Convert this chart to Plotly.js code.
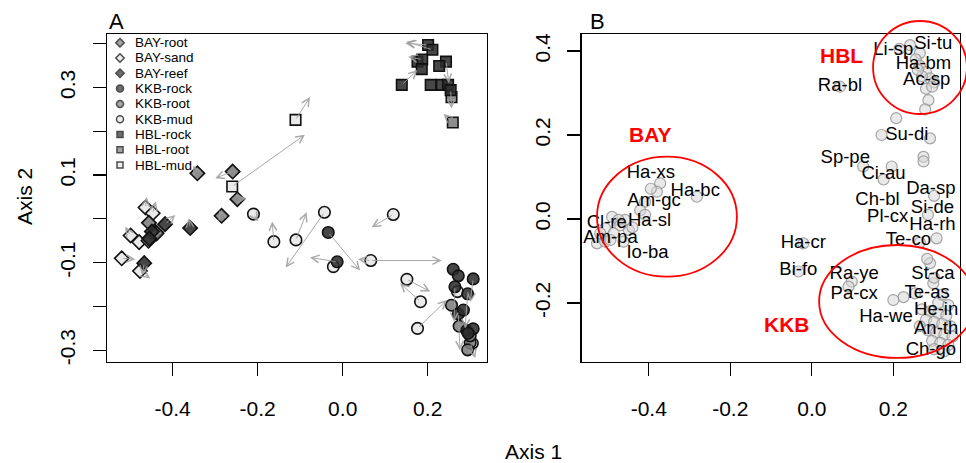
<!DOCTYPE html>
<html><head><meta charset="utf-8">
<script src="https://cdn.plot.ly/plotly-3.0.1.min.js"></script>
<style>html,body{margin:0;padding:0;background:#fff}#chart{width:966px;height:463px}</style>
</head><body><div id="chart"></div>
<script>
// ---------------- Panel A data ----------------
const bayRootX = [-0.342, -0.259, -0.248, -0.285, -0.456, -0.438, -0.457];
const bayRootY = [0.104, 0.108, 0.045, 0.007, -0.009, -0.033, -0.050];
const baySandX = [-0.464, -0.447, -0.499, -0.479, -0.520, -0.477, -0.440];
const baySandY = [0.026, 0.013, -0.038, -0.053, -0.090, -0.119, -0.030];
const bayReefX = [-0.418, -0.359, -0.467, -0.449, -0.455];
const bayReefY = [-0.012, -0.021, -0.101, -0.029, -0.045];
const kkbMudX = [-0.210, -0.162, -0.110, -0.043, 0.119, 0.066, 0.151, 0.183, 0.176, -0.022, 0.270, 0.305];
const kkbMudY = [0.011, -0.052, -0.048, 0.015, 0.010, -0.095, -0.138, -0.189, -0.250, -0.109, -0.166, -0.284];
const kkbRootX = [0.256, 0.274, 0.300, 0.294, 0.300];
const kkbRootY = [-0.197, -0.245, -0.283, -0.299, -0.267];
const kkbRockX = [-0.034, -0.013, 0.260, 0.272, 0.307, 0.264, 0.294, 0.272, 0.284, 0.292, 0.307, 0.295];
const kkbRockY = [-0.031, -0.098, -0.115, -0.130, -0.137, -0.155, -0.171, -0.217, -0.208, -0.255, -0.251, -0.261];
const hblRockX = [0.201, 0.211, 0.176, 0.187, 0.186, 0.243, 0.227, 0.139, 0.207, 0.233, 0.248, 0.254];
const hblRockY = [0.397, 0.386, 0.359, 0.364, 0.342, 0.359, 0.349, 0.306, 0.306, 0.306, 0.306, 0.294];
const hblRootX = [0.256, 0.259];
const hblRootY = [0.278, 0.220];
const hblMudX = [-0.111, -0.260];
const hblMudY = [0.226, 0.074];

// arrows (from -> to), axis units
const arrowFromX = [-0.111, -0.260, 0.201, 0.211, 0.187, 0.139, 0.254, 0.259, 0.243,
  0.119, -0.043, -0.110, -0.162, -0.034, -0.013, 0.066, 0.066, 0.151, 0.183, 0.176, -0.210, 0.264, 0.294, 0.272, 0.300, 0.307,
  -0.259, -0.342, -0.520, -0.477, -0.418, -0.464, -0.447, -0.499, -0.248, -0.359, -0.285, -0.467];
const arrowFromY = [0.226, 0.074, 0.397, 0.386, 0.364, 0.306, 0.294, 0.220, 0.359,
  0.010, 0.015, -0.048, -0.052, -0.031, -0.098, -0.095, -0.095, -0.138, -0.189, -0.250, 0.011, -0.155, -0.171, -0.217, -0.283, -0.137,
  0.108, 0.104, -0.090, -0.119, -0.012, 0.026, 0.013, -0.038, 0.045, -0.021, 0.007, -0.101];
const arrowToX = [-0.077, -0.089, 0.147, 0.150, 0.154, 0.176, 0.256, 0.237, 0.250,
  0.068, -0.134, -0.085, -0.166, 0.041, -0.077, 0.233, 0.036, 0.206, 0.135, 0.245, -0.199, 0.262, 0.288, 0.276, 0.312, 0.300,
  -0.300, -0.352, -0.488, -0.453, -0.394, -0.461, -0.440, -0.512, -0.226, -0.362, -0.290, -0.472];
const arrowToY = [0.278, 0.192, 0.401, 0.405, 0.370, 0.340, 0.252, 0.240, 0.310,
  -0.019, -0.111, 0.015, -0.006, -0.118, -0.088, -0.095, -0.092, -0.166, -0.147, -0.185, -0.006, -0.235, -0.250, -0.300, -0.318, -0.190,
  0.093, 0.122, -0.092, -0.136, 0.009, 0.050, 0.040, -0.018, 0.047, 0.002, 0.020, -0.128];

const legendNames = ['BAY-root', 'BAY-sand', 'BAY-reef', 'KKB-rock', 'KKB-root', 'KKB-mud', 'HBL-rock', 'HBL-root', 'HBL-mud'];

// ---------------- Panel B data ----------------
const siteX = [-0.372, -0.380, -0.282, -0.409, -0.421, -0.409, -0.490, -0.458, -0.507, -0.486, -0.527, -0.507, -0.462, -0.449, -0.474, -0.519, -0.494, -0.470, -0.440, -0.395,
  0.241, 0.265, 0.255, 0.265, 0.280, 0.290, 0.270, 0.300, 0.280, 0.295, 0.260, 0.286, 0.278, 0.215, 0.069,
  0.207, 0.171, 0.290, 0.274, 0.274, 0.126, 0.196, 0.176, 0.300, 0.285, 0.306, 0.265, -0.021, -0.033,
  0.290, 0.283, 0.298, 0.300, 0.253, 0.225, 0.200, 0.098, 0.090, 0.270, 0.290, 0.310, 0.330, 0.280, 0.300, 0.320, 0.340, 0.265, 0.285, 0.305, 0.325, 0.345, 0.295, 0.315, 0.335, 0.300, 0.325, 0.310, 0.320, 0.335];
const siteY = [0.085, 0.065, 0.053, 0.041, 0.021, 0.010, 0.005, -0.002, -0.022, -0.034, -0.058, -0.054, -0.054, -0.026, -0.002, -0.034, -0.050, -0.015, -0.020, 0.072,
  0.414, 0.395, 0.380, 0.365, 0.350, 0.335, 0.340, 0.325, 0.310, 0.315, 0.355, 0.283, 0.261, 0.405, 0.315,
  0.240, 0.200, 0.192, 0.148, 0.137, 0.125, 0.125, 0.094, 0.055, 0.010, -0.046, -0.056, -0.058, -0.125,
  -0.105, -0.095, -0.153, -0.140, -0.177, -0.186, -0.193, -0.149, -0.161, -0.215, -0.220, -0.225, -0.230, -0.240, -0.245, -0.250, -0.255, -0.255, -0.265, -0.270, -0.275, -0.280, -0.290, -0.295, -0.300, -0.310, -0.315, -0.200, -0.180, -0.205];

const speciesNames = ['Li-sp', 'Si-tu', 'Ha-bm', 'Ac-sp', 'Ra-bl', 'Su-di', 'Sp-pe', 'Ci-au', 'Da-sp', 'Ch-bl', 'Si-de', 'Pl-cx', 'Ha-rh', 'Te-co', 'Ha-cr', 'Bi-fo', 'Ra-ye', 'Pa-cx', 'St-ca', 'Te-as', 'He-in', 'Ha-we', 'An-th', 'Ch-go', 'Ha-xs', 'Ha-bc', 'Am-gc', 'Ha-sl', 'Cl-re', 'Am-pa', 'Io-ba'];
const speciesX = [0.200, 0.298, 0.274, 0.282, 0.069, 0.233, 0.082, 0.176, 0.292, 0.161, 0.296, 0.186, 0.296, 0.237, -0.021, -0.033, 0.104, 0.104, 0.297, 0.283, 0.305, 0.182, 0.305, 0.292, -0.395, -0.286, -0.387, -0.398, -0.503, -0.494, -0.403];
const speciesY = [0.402, 0.417, 0.367, 0.331, 0.315, 0.200, 0.145, 0.107, 0.071, 0.045, 0.025, 0.004, -0.014, -0.050, -0.058, -0.123, -0.133, -0.179, -0.133, -0.177, -0.217, -0.234, -0.264, -0.312, 0.109, 0.065, 0.041, -0.006, -0.010, -0.046, -0.082];

const groupNames = ['HBL', 'BAY', 'KKB'];
const groupLabelX = [0.0735, -0.396, -0.061];
const groupLabelY = [0.390, 0.202, -0.252];
const ellipseCX = [0.2654, -0.3554, 0.2091];
const ellipseCY = [0.3607, 0.0055, -0.1964];
const ellipseRX = [0.1152, 0.1716, 0.1912];
const ellipseRY = [0.1107, 0.1429, 0.1345];

// ---------------- layout geometry ----------------
const W = 966, H = 463;
const FONT = 'Liberation Sans, Arial, Helvetica, sans-serif';
const DARK = 'rgba(45,45,45,0.88)', GRAY = 'rgba(125,125,125,0.88)', LIGHT = 'rgba(232,232,232,0.9)';
const px = p => p / W, py = p => 1 - p / H;

const domAx = [px(107), px(487)], domBx = [px(581.7), px(960)], domY = [py(362), py(34)];
const rangeAx = [-0.5546, 0.3395], rangeAy = [-0.3267, 0.4221];
const rangeBx = [-0.5645, 0.3635], rangeBy = [-0.3405, 0.4405];

function fullRange(r, d) { const s = (r[1] - r[0]) / (d[1] - d[0]); return [r[0] - d[0] * s, r[1] + (1 - d[1]) * s]; }

function axBase(extra) {
  return Object.assign({
    showgrid: false, zeroline: false, showline: true, mirror: true, linecolor: '#000', linewidth: 1.3,
    ticks: 'outside', ticklen: 13, tickwidth: 1.2, tickcolor: '#000', tickmode: 'array',
    tickfont: { family: FONT, size: 21, color: '#000' }, fixedrange: true
  }, extra);
}

const styleOf = {
  'BAY-root': ['diamond', GRAY], 'BAY-sand': ['diamond', LIGHT], 'BAY-reef': ['diamond', DARK],
  'KKB-rock': ['circle', DARK], 'KKB-root': ['circle', GRAY], 'KKB-mud': ['circle', LIGHT],
  'HBL-rock': ['square', DARK], 'HBL-root': ['square', GRAY], 'HBL-mud': ['square', LIGHT]
};
const sizeOf = { diamond: 11, circle: 11.5, square: 10.5 };

const groupsA = [
  ['BAY-sand', baySandX, baySandY], ['BAY-root', bayRootX, bayRootY], ['BAY-reef', bayReefX, bayReefY],
  ['KKB-mud', kkbMudX, kkbMudY], ['KKB-root', kkbRootX, kkbRootY], ['KKB-rock', kkbRockX, kkbRockY],
  ['HBL-mud', hblMudX, hblMudY], ['HBL-root', hblRootX, hblRootY], ['HBL-rock', hblRockX, hblRockY]
];

const traces = [];
groupsA.forEach(g => {
  const st = styleOf[g[0]];
  traces.push({
    type: 'scatter', mode: 'markers', x: g[1], y: g[2], xaxis: 'x', yaxis: 'y', showlegend: false, hoverinfo: 'skip',
    marker: { symbol: st[0], size: sizeOf[st[0]], color: st[1], line: { color: '#111', width: 1.6 } }
  });
});

// Panel B sites and species labels
traces.push({
  type: 'scatter', mode: 'markers', x: siteX, y: siteY, xaxis: 'x2', yaxis: 'y2', showlegend: false, hoverinfo: 'skip',
  marker: { symbol: 'circle', size: 11, color: 'rgba(215,215,215,0.55)', line: { color: 'rgba(150,150,150,0.85)', width: 1.2 } }
});
traces.push({
  type: 'scatter', mode: 'text', x: speciesX, y: speciesY, text: speciesNames, xaxis: 'x2', yaxis: 'y2',
  showlegend: false, hoverinfo: 'skip', cliponaxis: false, textposition: 'middle center',
  textfont: { family: FONT, size: 18.5, color: '#000' }
});

// custom legend (pixel-space overlay axes)
const legSymX = 120, legY0 = 42.7, legStep = 15.3;
traces.push({
  type: 'scatter', mode: 'markers', xaxis: 'x3', yaxis: 'y3', showlegend: false, hoverinfo: 'skip', cliponaxis: false,
  x: legendNames.map(() => legSymX), y: legendNames.map((n, i) => legY0 + i * legStep),
  marker: {
    symbol: legendNames.map(n => styleOf[n][0]),
    size: legendNames.map(n => ({ diamond: 6.5, circle: 7, square: 6 })[styleOf[n][0]]),
    color: legendNames.map(n => styleOf[n][1].replace(/,0\.\d+\)/, ',1)')),
    line: { color: '#000', width: 1.5 }
  }
});
// empty trace to create the full-figure B-unit subplot
traces.push({ type: 'scatter', x: [], y: [], xaxis: 'x4', yaxis: 'y4', showlegend: false });

const annotations = [];
legendNames.forEach((n, i) => annotations.push({
  xref: 'paper', yref: 'paper', x: px(133), y: py(legY0 + i * legStep), xanchor: 'left', yanchor: 'middle',
  text: n, showarrow: false, font: { family: FONT, size: 13.5, color: '#000' }
}));
for (let i = 0; i < arrowFromX.length; i++) {
  annotations.push({
    xref: 'x', yref: 'y', axref: 'x', ayref: 'y', x: arrowToX[i], y: arrowToY[i], ax: arrowFromX[i], ay: arrowFromY[i],
    text: '', showarrow: true, arrowhead: 5, arrowsize: 1.5, arrowwidth: 1, arrowcolor: 'rgba(160,160,160,0.9)', standoff: 0
  });
}
groupNames.forEach((n, i) => annotations.push({
  xref: 'x2', yref: 'y2', x: groupLabelX[i], y: groupLabelY[i], xanchor: 'center', yanchor: 'middle', text: '<b>' + n + '</b>', showarrow: false,
  font: { family: FONT, size: 21, color: '#ff0000' }
}));
annotations.push({ xref: 'paper', yref: 'paper', x: px(107), y: py(21), xanchor: 'left', yanchor: 'middle', text: 'A', showarrow: false, font: { family: FONT, size: 22, color: '#000' } });
annotations.push({ xref: 'paper', yref: 'paper', x: px(588), y: py(21), xanchor: 'left', yanchor: 'middle', text: 'B', showarrow: false, font: { family: FONT, size: 22, color: '#000' } });
annotations.push({ xref: 'paper', yref: 'paper', x: px(25), y: py(197), xanchor: 'center', yanchor: 'middle', textangle: -90, text: 'Axis 2', showarrow: false, font: { family: FONT, size: 21, color: '#000' } });
annotations.push({ xref: 'paper', yref: 'paper', x: px(533), y: py(451), xanchor: 'center', yanchor: 'middle', text: 'Axis 1', showarrow: false, font: { family: FONT, size: 21, color: '#000' } });

const shapes = groupNames.map((n, i) => ({
  type: 'circle', xref: 'x4', yref: 'y4', layer: 'above',
  x0: ellipseCX[i] - ellipseRX[i], x1: ellipseCX[i] + ellipseRX[i],
  y0: ellipseCY[i] - ellipseRY[i], y1: ellipseCY[i] + ellipseRY[i],
  line: { color: '#ff0000', width: 1.8 }
}));

const xTicks = [-0.4, -0.2, 0.0, 0.2];
const xTickText = ['-0.4', '-0.2', '0.0', '0.2'];
const aYTicks = [-0.3, -0.2, -0.1, 0.0, 0.1, 0.2, 0.3, 0.4];
const aYTickText = ['-0.3', '', '-0.1', '', '0.1', '', '0.3', ''];
const bYTicks = [-0.2, 0.0, 0.2, 0.4];
const bYTickText = ['-0.2', '0.0', '0.2', '0.4'];

const layout = {
  width: W, height: H, margin: { l: 0, r: 0, t: 0, b: 0 }, paper_bgcolor: '#fff', plot_bgcolor: 'rgba(0,0,0,0)',
  showlegend: false, font: { family: FONT, color: '#000' },
  xaxis: axBase({ domain: domAx, range: rangeAx, anchor: 'y', tickvals: xTicks, ticktext: xTickText, ticklabelstandoff: 14 }),
  yaxis: axBase({ domain: domY, range: rangeAy, anchor: 'x', tickvals: aYTicks, ticktext: aYTickText, tickangle: -90, ticklabelstandoff: 9 }),
  xaxis2: axBase({ domain: domBx, range: rangeBx, anchor: 'y2', tickvals: xTicks, ticktext: xTickText, ticklabelstandoff: 14 }),
  yaxis2: axBase({ domain: domY, range: rangeBy, anchor: 'x2', tickvals: bYTicks, ticktext: bYTickText, tickangle: -90, ticklabelstandoff: 9 }),
  xaxis3: { domain: [0, 1], range: [0, W], anchor: 'y3', visible: false, fixedrange: true },
  yaxis3: { domain: [0, 1], range: [H, 0], anchor: 'x3', visible: false, fixedrange: true },
  xaxis4: { domain: [0, 1], range: fullRange(rangeBx, domBx), anchor: 'y4', visible: false, fixedrange: true },
  yaxis4: { domain: [0, 1], range: fullRange(rangeBy, domY), anchor: 'x4', visible: false, fixedrange: true },
  annotations: annotations, shapes: shapes
};

Plotly.newPlot('chart', traces, layout, { staticPlot: true, displayModeBar: false });
</script></body></html>
